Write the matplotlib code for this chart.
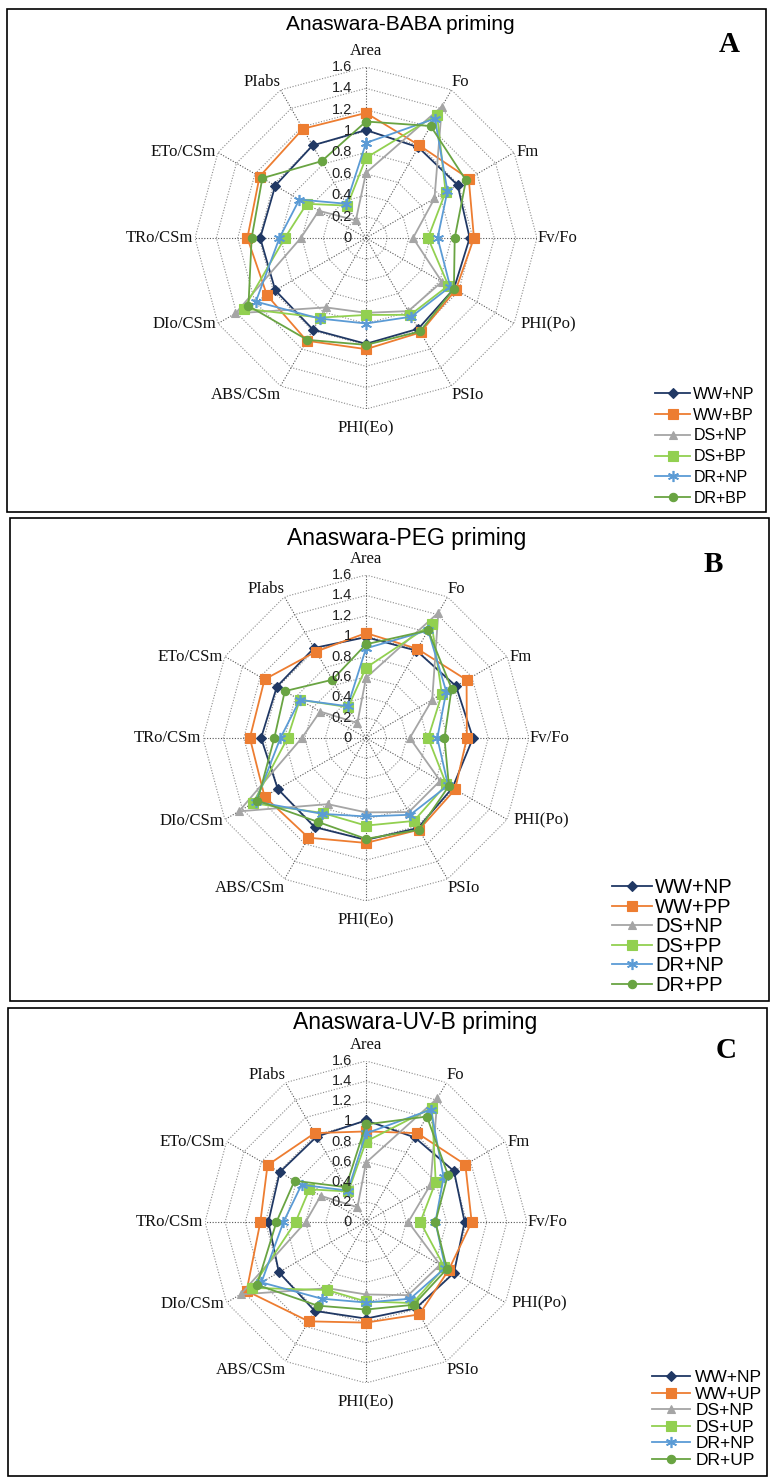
import numpy as np
import matplotlib
matplotlib.use("Agg")
import matplotlib.pyplot as plt
from matplotlib.patches import Rectangle

# ---- data -------------------------------------------------------------
categories = ["Area", "Fo", "Fm", "Fv/Fo", "PHI(Po)", "PSIo", "PHI(Eo)",
              "ABS/CSm", "DIo/CSm", "TRo/CSm", "ETo/CSm", "PIabs"]
tick_values = [0, 0.2, 0.4, 0.6, 0.8, 1.0, 1.2, 1.4, 1.6]

titles = ["Anaswara-BABA priming", "Anaswara-PEG priming", "Anaswara-UV-B priming"]
panel_letters = ["A", "B", "C"]

labels_baba = ["WW+NP", "WW+BP", "DS+NP", "DS+BP", "DR+NP", "DR+BP"]
labels_peg = ["WW+NP", "WW+PP", "DS+NP", "DS+PP", "DR+NP", "DR+PP"]
labels_uvb = ["WW+NP", "WW+UP", "DS+NP", "DS+UP", "DR+NP", "DR+UP"]

# BABA priming
baba_ww_np = [1.01, 0.98, 0.99, 0.97, 0.95, 0.98, 0.99, 0.99, 0.98, 0.99, 0.98, 1.00]
baba_ww_bp = [1.17, 1.00, 1.11, 1.01, 0.97, 1.02, 1.04, 1.11, 1.07, 1.11, 1.15, 1.18]
baba_ds_np = [0.61, 1.42, 0.74, 0.44, 0.82, 0.79, 0.70, 0.75, 1.41, 0.61, 0.51, 0.19]
baba_ds_bp = [0.75, 1.33, 0.86, 0.58, 0.89, 0.83, 0.72, 0.86, 1.32, 0.76, 0.64, 0.35]
baba_dr_np = [0.89, 1.29, 0.88, 0.67, 0.91, 0.85, 0.80, 0.87, 1.19, 0.81, 0.72, 0.37]
baba_dr_bp = [1.09, 1.21, 1.08, 0.83, 0.95, 1.01, 1.00, 1.10, 1.27, 1.07, 1.12, 0.83]

# PEG priming
peg_ww_np = [0.99, 0.99, 1.02, 1.05, 0.98, 1.02, 1.00, 1.01, 1.00, 1.03, 1.01, 1.02]
peg_ww_pp = [1.03, 1.01, 1.14, 0.99, 1.01, 1.04, 1.03, 1.13, 1.15, 1.14, 1.15, 0.98]
peg_ds_np = [0.59, 1.42, 0.75, 0.43, 0.84, 0.84, 0.73, 0.75, 1.44, 0.63, 0.52, 0.17]
peg_ds_pp = [0.69, 1.29, 0.86, 0.61, 0.91, 0.94, 0.86, 0.85, 1.28, 0.77, 0.75, 0.35]
peg_dr_np = [0.88, 1.22, 0.91, 0.70, 0.93, 0.87, 0.77, 0.86, 1.25, 0.84, 0.75, 0.36]
peg_dr_pp = [0.92, 1.22, 0.97, 0.77, 0.94, 1.04, 0.99, 0.95, 1.23, 0.90, 0.92, 0.66]

# UV-B priming
uvb_ww_np = [1.01, 0.97, 1.01, 0.98, 1.01, 0.99, 0.96, 1.02, 1.00, 0.97, 0.99, 0.98]
uvb_ww_up = [0.90, 1.02, 1.14, 1.05, 0.95, 1.06, 1.00, 1.14, 1.37, 1.05, 1.13, 1.02]
uvb_ds_np = [0.59, 1.42, 0.74, 0.42, 0.85, 0.84, 0.72, 0.76, 1.44, 0.60, 0.52, 0.17]
uvb_ds_up = [0.80, 1.31, 0.80, 0.54, 0.90, 0.93, 0.79, 0.78, 1.31, 0.70, 0.65, 0.35]
uvb_dr_np = [0.88, 1.29, 0.89, 0.69, 0.91, 0.88, 0.80, 0.88, 1.20, 0.82, 0.74, 0.36]
uvb_dr_up = [0.97, 1.21, 0.94, 0.69, 0.93, 0.95, 0.87, 0.96, 1.25, 0.89, 0.82, 0.40]

panels = [
    (labels_baba, [baba_ww_np, baba_ww_bp, baba_ds_np, baba_ds_bp, baba_dr_np, baba_dr_bp]),
    (labels_peg, [peg_ww_np, peg_ww_pp, peg_ds_np, peg_ds_pp, peg_dr_np, peg_dr_pp]),
    (labels_uvb, [uvb_ww_np, uvb_ww_up, uvb_ds_np, uvb_ds_up, uvb_dr_np, uvb_dr_up]),
]

# ---- styles -----------------------------------------------------------
colors = ["#203864", "#ED7D31", "#A5A5A5", "#92D050", "#5B9BD5", "#69A442"]
markers = ["D", "s", "^", "s", (6, 2, 0), "o"]
msizes = [5.5, 7, 6, 7, 8, 6]

SANS = "Liberation Sans"
SERIF = "Liberation Serif"

W, H = 770, 1477
PT = 72 / 100  # points per pixel at 100 dpi
fig = plt.figure(figsize=(W / 100, H / 100), dpi=100)


def fx(x):
    return x / W


def fy(y):
    return 1 - y / H


# panel frames (x0, y0, x1, y1) in pixels from top-left
frames = [(7, 9, 766, 512), (10, 518, 769, 1001), (8, 1008, 767, 1476)]
# radar centre and outer radius in pixels
centres = [(366, 238, 171), (366, 738, 163), (366, 1222, 161)]
title_pos = [(400, 24, 15), (407, 539, 16.5), (415, 1022, 16.5)]
letter_pos = [(729, 45), (713, 564), (726, 1050)]
# legend: left x, top y (px), font size, handle length, text pad, row spacing
legend_cfg = [(655, 387, 11.5, 2.2, 0.2, 0.36),
              (612, 878, 14.5, 2.0, 0.15, 0.03),
              (652, 1370, 12.5, 2.2, 0.3, 0.08)]

# category label placement: (ha, va, dx px, dy px) relative to outer vertex
label_place = [("center", "bottom", 0, 8), ("left", "bottom", 0, 0),
               ("left", "center", 2, 0), ("left", "center", 1, 0),
               ("left", "center", 6, -1), ("left", "top", 0, -1),
               ("center", "top", 0, -11), ("right", "top", 0, -1),
               ("right", "center", -2, -1), ("right", "center", -2, 0),
               ("right", "center", -2, 0), ("right", "bottom", 0, 0)]

n = len(categories)
angles = np.linspace(0, 2 * np.pi, n, endpoint=False)
closed = np.concatenate([angles, angles[:1]])

for i, (labels, series) in enumerate(panels):
    x0, y0, x1, y1 = frames[i]
    fig.add_artist(Rectangle((fx(x0), fy(y1)), fx(x1 - x0), (y1 - y0) / H,
                             transform=fig.transFigure, fill=False,
                             ec="black", lw=1.2))

    cx, cy, R = centres[i]
    ax = fig.add_axes([fx(cx - R), fy(cy + R), 2 * R / W, 2 * R / H],
                      projection="polar")
    ax.set_theta_zero_location("N")
    ax.set_theta_direction(-1)
    ax.set_ylim(0, 1.6)
    ax.axis("off")

    # polygon grid rings and spokes
    for v in tick_values[1:]:
        ax.plot(closed, [v] * (n + 1), ls=(0, (1, 1.5)), color="#8C8C8C",
                lw=0.8, zorder=1)
    for a in angles:
        ax.plot([a, a], [0, 1.6], ls=(0, (1, 1.5)), color="#555555",
                lw=0.8, zorder=1)

    # radial value labels along the first spoke
    for v in tick_values:
        ax.annotate(f"{round(v, 1):g}", xy=(0, v), xytext=(-10, 0),
                    textcoords="offset points", ha="right", va="center",
                    fontsize=10.5, family=SANS, color="#222222", zorder=5)

    # category labels around the outside
    for a, cat, (ha, va, dx, dy) in zip(angles, categories, label_place):
        ax.annotate(cat, xy=(a, 1.6), xytext=(dx * PT, dy * PT),
                    textcoords="offset points", ha=ha, va=va,
                    fontsize=12, family=SERIF, color="#111111")

    # data series
    handles = []
    for k, vals in enumerate(series):
        v = np.concatenate([vals, vals[:1]])
        (ln,) = ax.plot(closed, v, color=colors[k], lw=1.3, marker=markers[k],
                        markersize=msizes[k], markeredgecolor=colors[k],
                        markeredgewidth=1.2 if k == 4 else 0.8,
                        label=labels[k], zorder=3 + k * 0.1, clip_on=False)
        handles.append(ln)

    lx, ly, lfs, hl, htp, lsp = legend_cfg[i]
    ax.legend(handles=handles, loc="upper left",
              bbox_to_anchor=(fx(lx), fy(ly)), bbox_transform=fig.transFigure,
              frameon=False, prop={"family": SANS, "size": lfs},
              handlelength=hl, handletextpad=htp, labelspacing=lsp,
              borderpad=0, borderaxespad=0)

    tx, ty, tfs = title_pos[i]
    fig.text(fx(tx), fy(ty), titles[i], ha="center", va="center",
             fontsize=tfs, family=SANS)
    lx2, ly2 = letter_pos[i]
    fig.text(fx(lx2), fy(ly2), panel_letters[i], ha="center", va="center",
             fontsize=21, weight="bold", family=SERIF)

fig.savefig("out.png", dpi=100, facecolor="white")
